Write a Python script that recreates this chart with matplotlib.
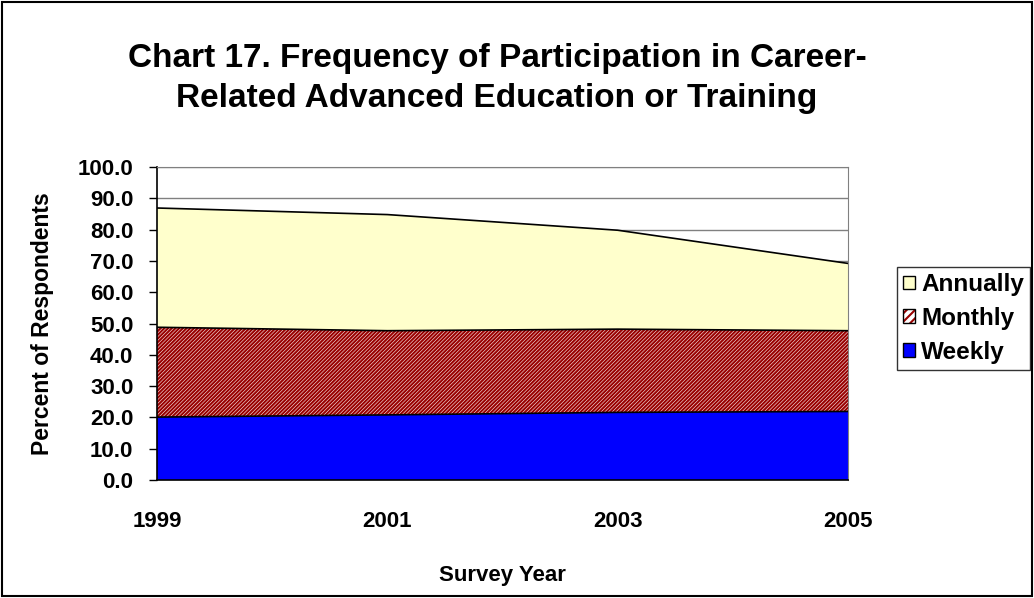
import matplotlib
matplotlib.use("Agg")
import matplotlib.pyplot as plt
from matplotlib.patches import Rectangle
from matplotlib.legend_handler import HandlerTuple

plt.rcParams['font.family'] = ['Liberation Sans', 'DejaVu Sans']
plt.rcParams['hatch.linewidth'] = 1.5

years = [1999, 2001, 2003, 2005]
weekly = [20.1, 20.8, 21.6, 21.9]
monthly = [28.7, 26.9, 26.6, 25.8]
annually = [38.1, 37.1, 31.6, 21.5]
yticks = [0, 10, 20, 30, 40, 50, 60, 70, 80, 90, 100]

W, H = 1034, 598
fig = plt.figure(figsize=(W / 100, H / 100), dpi=100)
ax = fig.add_axes([157 / W, 1 - 480 / H, (848 - 157) / W, (480 - 167) / H])

x = list(range(len(years)))
base1 = weekly
base2 = [w + m for w, m in zip(weekly, monthly)]
top = [b + a for b, a in zip(base2, annually)]

HATCH = '/' * 9
RED = '#990000'

ax.fill_between(x, 0, base1, facecolor='#0000FF', edgecolor='none', zorder=2)
ax.fill_between(x, base1, base2, facecolor='white', edgecolor=RED, hatch=HATCH,
                linewidth=0, zorder=2)
ax.fill_between(x, base2, top, facecolor='#FFFFCC', edgecolor='none', zorder=2)
for y in (base1, base2, top):
    ax.plot(x, y, color='black', linewidth=1.2, zorder=3)

ax.set_xlim(0, len(years) - 1)
ax.set_ylim(0, 100)
ax.set_yticks(yticks)
ax.set_yticklabels([f"{v:.1f}" for v in yticks], fontsize=16, fontweight='bold')
ax.set_xticks(x)
ax.set_xticklabels([str(y) for y in years], fontsize=16, fontweight='bold')
ax.tick_params(axis='y', direction='out', length=6, width=1, pad=11)
ax.tick_params(axis='x', direction='out', length=0, pad=22)
ax.grid(axis='y', color='#808080', linewidth=1, zorder=1)
ax.set_axisbelow(True)
for s in ('top', 'right'):
    ax.spines[s].set_color('#808080')
for s in ('left', 'bottom'):
    ax.spines[s].set_color('black')
    ax.spines[s].set_linewidth(1.2)

ax.set_ylabel('Percent of Respondents', fontsize=16.5, fontweight='bold')
ax.yaxis.set_label_coords((54 - 157) / (848 - 157), 0.5)
ax.set_xlabel('Survey Year', fontsize=16, fontweight='bold')
ax.xaxis.set_label_coords(0.5, -(565 - 480) / (480 - 167))

fig.text(497 / W, 1 - 58 / H, 'Chart 17. Frequency of Participation in Career-',
         fontsize=24, fontweight='bold', ha='center', va='center')
fig.text(497 / W, 1 - 98 / H, 'Related Advanced Education or Training',
         fontsize=24, fontweight='bold', ha='center', va='center')

# legend proxies: a filled square plus a black outline on top
p_ann = Rectangle((0, 0), 1, 1, facecolor='#FFFFCC', edgecolor='black', linewidth=1)
p_mon = (Rectangle((0, 0), 1, 1, facecolor='white', edgecolor=RED, hatch='/' * 4, linewidth=0),
         Rectangle((0, 0), 1, 1, fill=False, edgecolor='black', linewidth=1))
p_wk = Rectangle((0, 0), 1, 1, facecolor='#0000FF', edgecolor='black', linewidth=1)
leg = fig.legend([p_ann, p_mon, p_wk], ['Annually', 'Monthly', 'Weekly'],
                 handler_map={tuple: HandlerTuple(ndivide=1, pad=0)},
                 loc='upper left', bbox_to_anchor=(897 / W, 1 - 267 / H),
                 prop={'weight': 'bold', 'size': 17.5}, frameon=True, fancybox=False,
                 edgecolor='black', handlelength=0.5, handleheight=0.5,
                 handletextpad=0.25, labelspacing=0.45, borderpad=0.25, borderaxespad=0)
leg.get_frame().set_linewidth(1)

fig.patches.append(Rectangle((0.002, 0.003), 0.996, 0.994, transform=fig.transFigure,
                             fill=False, edgecolor='black', linewidth=1.5))

fig.savefig('out.png', dpi=100)
